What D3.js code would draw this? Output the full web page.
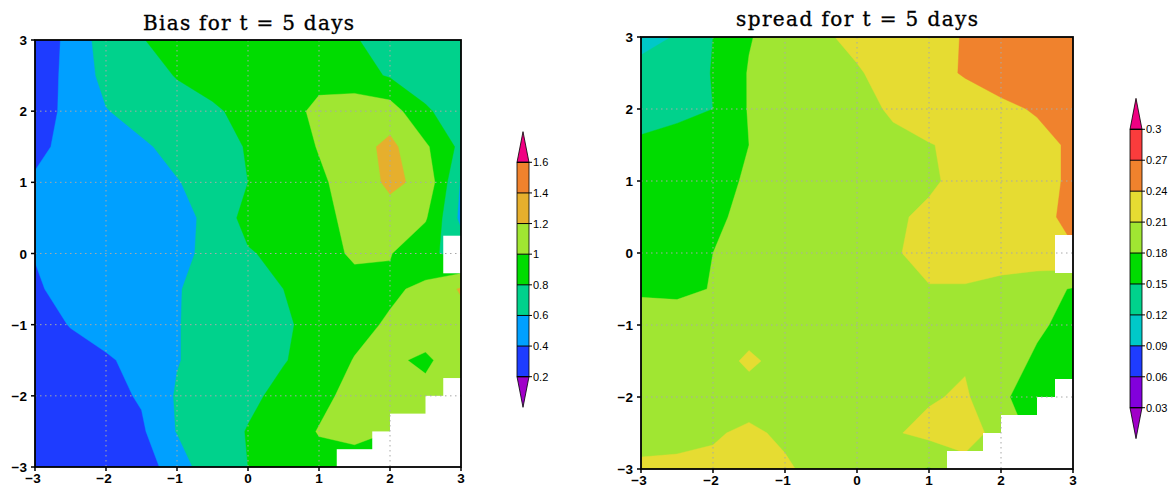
<!DOCTYPE html>
<html><head><meta charset="utf-8">
<script src="https://cdn.jsdelivr.net/npm/d3@7"></script>
<style>body{margin:0;background:#fff}svg{display:block}</style>
</head><body>
<svg id="c" width="1175" height="489"></svg>
<script>
// ---------- data ----------
const gridX = [-3,-2.5,-2,-1.5,-1,-0.5,0,0.5,1,1.5,2,2.5,3];
const gridY = [3,2.5,2,1.5,1,0.5,0,-0.5,-1,-1.5,-2,-2.5,-3];
const axisTicks = [-3,-2,-1,0,1,2,3];

// Bias field, rows from y=3 (top) to y=-3
const biasValues = [
 [0.35,0.42,0.72,0.79,0.88,0.92,0.93,0.92,0.88,0.81,0.74,0.72,0.72],
 [0.34,0.43,0.67,0.72,0.81,0.88,0.92,0.93,0.95,0.88,0.78,0.72,0.70],
 [0.33,0.44,0.59,0.68,0.72,0.77,0.86,0.93,1.04,1.12,1.10,0.82,0.72],
 [0.36,0.45,0.52,0.57,0.66,0.74,0.81,0.90,1.01,1.12,1.25,1.03,0.75],
 [0.42,0.46,0.49,0.53,0.59,0.68,0.80,0.88,0.97,1.08,1.24,1.15,0.58],
 [0.42,0.45,0.48,0.51,0.55,0.64,0.875,0.90,0.95,1.05,1.12,1.02,0.55],
 [0.41,0.46,0.49,0.52,0.55,0.65,0.78,0.86,0.92,1.03,1.01,0.85,0.72],
 [0.37,0.48,0.50,0.53,0.59,0.66,0.73,0.80,0.88,0.93,0.96,1.05,1.22],
 [0.30,0.41,0.47,0.52,0.59,0.68,0.74,0.77,0.87,0.93,1.03,1.10,1.12],
 [0.25,0.31,0.38,0.45,0.59,0.68,0.72,0.79,0.87,1.01,1.03,0.97,1.10],
 [0.22,0.27,0.34,0.42,0.62,0.70,0.76,0.85,0.95,1.06,1.08,1.05,1.05],
 [0.20,0.24,0.30,0.37,0.61,0.70,0.81,0.90,1.01,1.03,1.00,1.00,1.00],
 [0.20,0.22,0.27,0.34,0.46,0.78,0.80,0.88,0.94,0.95,0.95,0.95,0.95]
];
// Spread field, rows from y=3 (top) to y=-3
const spreadValues = [
 [0.115,0.121,0.150,0.178,0.195,0.205,0.218,0.225,0.229,0.242,0.255,0.260,0.262],
 [0.125,0.138,0.151,0.182,0.195,0.200,0.207,0.222,0.232,0.242,0.255,0.262,0.265],
 [0.135,0.140,0.150,0.182,0.190,0.195,0.200,0.214,0.222,0.228,0.233,0.243,0.255],
 [0.156,0.165,0.172,0.180,0.190,0.195,0.198,0.203,0.209,0.215,0.222,0.230,0.245],
 [0.160,0.165,0.172,0.183,0.190,0.195,0.198,0.202,0.206,0.218,0.225,0.230,0.245],
 [0.158,0.163,0.175,0.187,0.192,0.196,0.200,0.206,0.215,0.222,0.228,0.233,0.246],
 [0.155,0.162,0.180,0.190,0.195,0.198,0.202,0.208,0.216,0.222,0.226,0.230,0.238],
 [0.177,0.175,0.181,0.190,0.195,0.198,0.200,0.204,0.209,0.208,0.200,0.190,0.178],
 [0.190,0.192,0.195,0.198,0.198,0.199,0.200,0.200,0.200,0.198,0.194,0.185,0.170],
 [0.190,0.193,0.197,0.215,0.200,0.200,0.200,0.200,0.202,0.207,0.195,0.175,0.165],
 [0.190,0.193,0.196,0.198,0.200,0.200,0.200,0.203,0.207,0.214,0.185,0.165,0.160],
 [0.200,0.203,0.207,0.215,0.205,0.200,0.200,0.207,0.218,0.222,0.200,0.170,0.160],
 [0.215,0.215,0.216,0.225,0.214,0.200,0.195,0.190,0.178,0.200,0.180,0.165,0.160]
];
// undefined (missing) regions, [x0, x1, y0, y1] in data units
const missingRects = [
 [2.75,3,-0.25,0.25],
 [2.75,3,-3,-1.75],
 [2.5,3,-3,-2.0],
 [2.0,3,-3,-2.25],
 [1.75,3,-3,-2.5],
 [1.25,3,-3,-2.75]
];

const biasLevels = [0.2,0.4,0.6,0.8,1,1.2,1.4,1.6];
const biasLabels = ["0.2","0.4","0.6","0.8","1","1.2","1.4","1.6"];
const biasColors = ["#a000c8","#1e3cff","#00a0ff","#00d28c","#00dc00","#a0e632","#e6af2d","#f0822d","#f00082"];
const spreadLevels = [0.03,0.06,0.09,0.12,0.15,0.18,0.21,0.24,0.27,0.3];
const spreadLabels = ["0.03","0.06","0.09","0.12","0.15","0.18","0.21","0.24","0.27","0.3"];
const spreadColors = ["#a000c8","#8200dc","#1e3cff","#00c8c8","#00d28c","#00dc00","#a0e632","#e6dc32","#f0822d","#fa3c3c","#f00082"];

const titles = ["Bias for t = 5 days","spread for t = 5 days"];

// ---------- drawing ----------
const svg = d3.select("#c");
const fmt = v => (v < 0 ? "\u2212" : "") + Math.abs(v);

function drawPanel(id, cfg) {
  const {x0,x1,y0,y1,values,levels,colors,title,titleX,titleY,titleW,cb} = cfg;
  const sx = d3.scaleLinear().domain([-3,3]).range([x0,x1]);
  const sy = d3.scaleLinear().domain([-3,3]).range([y1,y0]);
  const g = svg.append("g");
  g.append("clipPath").attr("id","clip"+id).append("rect")
    .attr("x",x0).attr("y",y0).attr("width",x1-x0).attr("height",y1-y0);
  const plot = g.append("g").attr("clip-path","url(#clip"+id+")");
  const nx = gridX.length, ny = gridY.length;
  const flat = values.flat();
  const dx = gridX[1]-gridX[0], dy = gridY[1]-gridY[0];
  const proj = d3.geoTransform({point(px,py){
    this.stream.point(sx(gridX[0] + (px-0.5)*dx), sy(gridY[0] + (py-0.5)*dy));
  }});
  const path = d3.geoPath(proj);
  plot.append("rect").attr("x",x0).attr("y",y0).attr("width",x1-x0).attr("height",y1-y0)
    .attr("fill",colors[0]);
  const conts = d3.contours().size([nx,ny]).thresholds(levels)(flat);
  plot.selectAll("path.band").data(conts).join("path")
    .attr("d",path).attr("fill",(d,i)=>colors[i+1]).attr("stroke",(d,i)=>colors[i+1]).attr("stroke-width",0.4);
  plot.selectAll("rect.miss").data(missingRects).join("rect")
    .attr("x",d=>sx(d[0])).attr("width",d=>sx(d[1])-sx(d[0])+2)
    .attr("y",d=>sy(d[3])).attr("height",d=>sy(d[2])-sy(d[3])+2)
    .attr("fill","#fff");
  // dotted grid
  const inner = axisTicks.slice(1,-1);
  plot.selectAll("line.gx").data(inner).join("line")
    .attr("x1",d=>sx(d)).attr("x2",d=>sx(d)).attr("y1",y0).attr("y2",y1)
    .attr("stroke","#a8a8a8").attr("stroke-width",1).attr("stroke-dasharray","1.5,3.5");
  plot.selectAll("line.gy").data(inner).join("line")
    .attr("y1",d=>sy(d)).attr("y2",d=>sy(d)).attr("x1",x0).attr("x2",x1)
    .attr("stroke","#a8a8a8").attr("stroke-width",1).attr("stroke-dasharray","1.5,3.5");
  // frame
  g.append("rect").attr("x",x0).attr("y",y0).attr("width",x1-x0).attr("height",y1-y0)
    .attr("fill","none").attr("stroke","#000").attr("stroke-width",1.8);
  // ticks
  g.selectAll("line.tx").data(axisTicks).join("line")
    .attr("x1",d=>sx(d)).attr("x2",d=>sx(d)).attr("y1",y1).attr("y2",y1+4)
    .attr("stroke","#000").attr("stroke-width",1.5);
  g.selectAll("line.ty").data(axisTicks).join("line")
    .attr("y1",d=>sy(d)).attr("y2",d=>sy(d)).attr("x1",x0-4).attr("x2",x0)
    .attr("stroke","#000").attr("stroke-width",1.5);
  g.selectAll("text.lx").data(axisTicks).join("text")
    .attr("x",d=>sx(d)+(d<0?-2:0)).attr("y",Math.min(y1+16,486)).attr("text-anchor","middle")
    .attr("font-family","Liberation Sans, Arial, sans-serif").attr("font-weight","bold").attr("font-size",13.5)
    .text(fmt);
  g.selectAll("text.ly").data(axisTicks).join("text")
    .attr("x",x0-8).attr("y",d=>sy(d)+5).attr("text-anchor","end")
    .attr("font-family","Liberation Sans, Arial, sans-serif").attr("font-weight","bold").attr("font-size",13.5)
    .text(fmt);
  // title
  g.append("text").attr("x",titleX).attr("y",titleY)
    .attr("font-family","DejaVu Serif, serif").attr("font-size",20)
    .attr("stroke","#000").attr("stroke-width",0.35)
    .attr("textLength",titleW).attr("lengthAdjust","spacing")
    .text(title);
  // colorbar
  const cy = d3.scaleLinear().domain([levels[0],levels[levels.length-1]]).range([cb.bottom,cb.top]);
  const seg = (cb.bottom-cb.top)/(levels.length-1);
  const cg = g.append("g");
  const segs = d3.range(levels.length-1);
  cg.selectAll("rect").data(segs).join("rect")
    .attr("x",cb.x).attr("width",cb.w)
    .attr("y",i=>cy(levels[i+1])).attr("height",i=>cy(levels[i])-cy(levels[i+1]))
    .attr("fill",i=>colors[i+1]);
  const xm = cb.x + cb.w/2;
  const topTip = [[cb.x,cy(levels[levels.length-1])],[xm,cy(levels[levels.length-1])-seg],[cb.x+cb.w,cy(levels[levels.length-1])]];
  const botTip = [[cb.x,cy(levels[0])],[xm,cy(levels[0])+seg],[cb.x+cb.w,cy(levels[0])]];
  cg.append("path").attr("d",d3.line()(topTip)+"Z").attr("fill",colors[colors.length-1]).attr("stroke","#000").attr("stroke-width",0.8);
  cg.append("path").attr("d",d3.line()(botTip)+"Z").attr("fill",colors[0]).attr("stroke","#000").attr("stroke-width",0.8);
  cg.append("rect").attr("x",cb.x).attr("width",cb.w).attr("y",cy(levels[levels.length-1]))
    .attr("height",cy(levels[0])-cy(levels[levels.length-1])).attr("fill","none").attr("stroke","#000").attr("stroke-width",0.8);
  cg.selectAll("line").data(levels).join("line")
    .attr("x1",cb.x).attr("x2",cb.x+cb.w+3).attr("y1",d=>cy(d)).attr("y2",d=>cy(d))
    .attr("stroke","#000").attr("stroke-width",1);
  cg.selectAll("text").data(levels).join("text")
    .attr("x",cb.x+cb.w+4).attr("y",d=>cy(d)+4)
    .attr("font-family","Liberation Sans, Arial, sans-serif").attr("font-size",11)
    .text((d,i)=>cb.labels[i]);
}

drawPanel(0,{x0:35,x1:461,y0:40,y1:467,values:biasValues,levels:biasLevels,colors:biasColors,
  title:titles[0],titleX:143,titleY:30,titleW:211,
  cb:{x:517,w:12,top:162.3,bottom:376.7,labels:biasLabels}});
drawPanel(1,{x0:641,x1:1073,y0:37,y1:469,values:spreadValues,levels:spreadLevels,colors:spreadColors,
  title:titles[1],titleX:736,titleY:26,titleW:242,
  cb:{x:1130,w:12,top:129.3,bottom:407.7,labels:spreadLabels}});
</script>
</body></html>
